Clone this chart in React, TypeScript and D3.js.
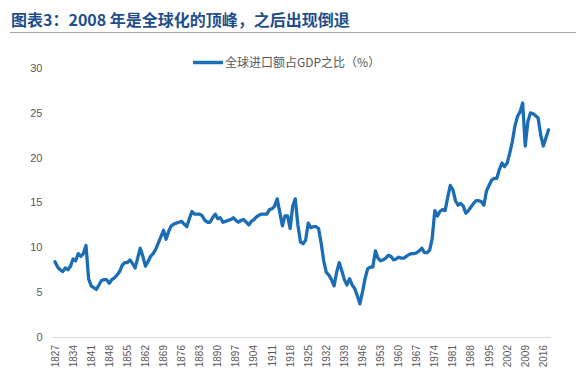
import React from "react";
import * as d3 from "d3";

const years: number[] = d3.range(1827, 2019);
const values: number[] = [
  8.4, 7.8, 7.5, 7.3, 7.7, 7.5, 7.9, 8.7, 8.5, 9.3,
  9.0, 9.3, 10.2, 6.5, 5.7, 5.5, 5.3, 5.8, 6.3, 6.4,
  6.4, 6.0, 6.4, 6.6, 6.9, 7.3, 8.0, 8.3, 8.3, 8.6,
  8.2, 7.7, 8.8, 9.9, 9.0, 7.9, 8.4, 9.0, 9.3, 9.8,
  10.5, 11.2, 11.9, 10.9, 11.8, 12.4, 12.6, 12.7, 12.8, 12.9,
  12.6, 12.3, 13.2, 14.0, 13.7, 13.7, 13.7, 13.5, 13.0, 12.8,
  12.8, 13.3, 13.7, 13.2, 13.3, 12.8, 12.9, 13.0, 13.1, 13.3,
  13.0, 12.8, 13.0, 13.1, 12.8, 12.5, 12.9, 13.1, 13.4, 13.6,
  13.7, 13.7, 13.7, 14.2, 14.3, 14.6, 15.4, 13.9, 12.4, 13.5,
  13.5, 12.1, 14.6, 15.4, 12.5, 10.6, 10.4, 10.8, 12.7, 12.2,
  12.3, 12.3, 12.1, 10.5, 8.5, 7.2, 6.9, 6.4, 5.7, 7.2,
  8.3, 7.4, 6.4, 5.8, 6.5, 5.8, 5.4, 4.6, 3.7, 5.0,
  6.5, 7.6, 7.8, 7.8, 9.6, 8.8, 8.5, 8.6, 8.8, 9.1,
  9.0, 8.6, 8.7, 8.9, 8.8, 8.8, 9.0, 9.2, 9.3, 9.3,
  9.4, 9.6, 9.9, 9.4, 9.4, 9.7, 11.0, 14.1, 13.5, 14.0,
  14.2, 14.1, 15.6, 16.9, 16.4, 15.2, 14.7, 14.9, 14.6, 13.8,
  14.1, 14.5, 14.9, 15.2, 15.2, 15.1, 14.7, 16.3, 16.9, 17.5,
  17.7, 17.7, 18.7, 19.4, 19.0, 19.4, 20.5, 21.8, 23.5, 24.6,
  25.1, 26.1, 21.3, 24.0, 25.0, 24.9, 24.7, 24.4, 22.5, 21.3,
  22.2, 23.1,
];
const xTickLabels: number[] = d3.range(1827, 2019, 7);
const yTicks: number[] = [0, 5, 10, 15, 20, 25, 30];
const titleText = "图表3：2008 年是全球化的顶峰，之后出现倒退";
const legendText = "全球进口额占GDP之比（%）";

const W = 579;
const H = 379;
const LINE_COLOR = "#1b6db5";
const TEXT_COLOR = "#595959";
const FONT = "'Liberation Sans', Arial, sans-serif";
const CJK = "'Noto Sans CJK SC', 'Noto Sans', sans-serif";

export default function App() {
  const x = d3.scalePoint<number>().domain(years).range([55, 548.5]);
  const y = d3.scaleLinear().domain([0, 30]).range([337, 68]);
  const data = years.map((yr, i) => ({ yr, v: values[i] }));
  const line = d3
    .line<{ yr: number; v: number }>()
    .x((d) => x(d.yr) as number)
    .y((d) => y(d.v));

  return (
    <svg
      width={W}
      height={H}
      style={{ position: "absolute", left: 0, top: 0, background: "#fff" }}
    >
      <rect x={0} y={0} width={W} height={H} fill="#ffffff" />
      <text
        x={11}
        y={26}
        fill="#1f4e8c"
        fontFamily={CJK}
        fontWeight={700}
        fontSize={16}
      >
        {titleText}
      </text>
      <line x1={10} x2={576} y1={32.5} y2={32.5} stroke="#a6a6a6" strokeWidth={1} />

      {/* legend */}
      <line x1={193} x2={223} y1={62.5} y2={62.5} stroke={LINE_COLOR} strokeWidth={3.5} />
      <text
        x={225}
        y={62.5}
        dy="0.35em"
        fill={TEXT_COLOR}
        fontFamily={CJK}
        fontSize={12}
      >
        {legendText}
      </text>

      {/* y axis labels */}
      {yTicks.map((t) => (
        <text
          key={t}
          x={42.5}
          y={y(t)}
          dy="0.35em"
          textAnchor="end"
          fill={TEXT_COLOR}
          fontFamily={FONT}
          fontSize={11}
        >
          {t}
        </text>
      ))}

      {/* x axis line */}
      <line x1={52} x2={551} y1={337.5} y2={337.5} stroke="#d9d9d9" strokeWidth={1} />

      {/* x labels */}
      {xTickLabels.map((t) => (
        <text
          key={t}
          transform={`translate(${x(t)},345) rotate(-90)`}
          dy="0.35em"
          textAnchor="end"
          fill={TEXT_COLOR}
          fontFamily={FONT}
          fontSize={10}
        >
          {t}
        </text>
      ))}

      <path
        d={line(data) || ""}
        fill="none"
        stroke={LINE_COLOR}
        strokeWidth={3.3}
        strokeLinejoin="round"
        strokeLinecap="round"
      />
    </svg>
  );
}
